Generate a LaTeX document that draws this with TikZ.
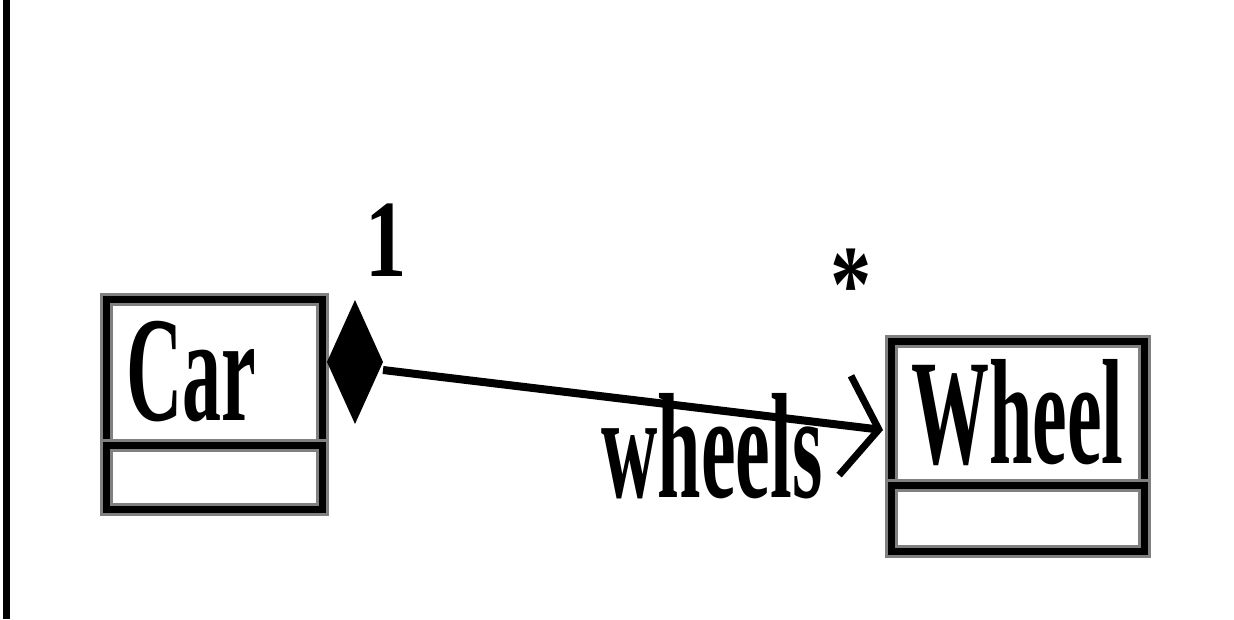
\documentclass[tikz,border=0pt]{standalone}
\usepackage{fontspec}
\setmainfont{Liberation Serif}
\usetikzlibrary{arrows.meta,positioning,shapes.geometric}

\newcommand{\squeeze}[2][0.52]{\scalebox{#1}[1]{#2}}

\begin{document}
\begin{tikzpicture}[x=1pt,y=-1pt,line width=7pt,
    >={Straight Barb[length=34pt,width=100pt,line width=7pt]}]
       \tikzstyle{umlbox}=[draw, rectangle, inner sep=0pt, outer sep=0pt,
         preaction={draw=black!50, line width=13pt}]
       \tikzstyle{classname}=[umlbox, font=\fontsize{150}{150}\selectfont\bfseries]
       \tikzstyle{role}=[font=\fontsize{150}{150}\selectfont\bfseries, anchor=base]
       \tikzstyle{mult}=[font=\fontsize{110}{110}\selectfont\bfseries, anchor=base]
       \tikzstyle{composite}=[diamond, fill=black, inner sep=0pt, outer sep=0pt,
         minimum width=56pt, minimum height=124pt]

       \useasboundingbox (0,0) rectangle (1234,619);
       \draw (6,0) -- (6,619);

       \node[classname, minimum width=216pt, minimum height=146pt] (car) at (214,372) {\squeeze{Car}\kern45pt};
       \node[umlbox, minimum width=216pt, minimum height=64pt, below=0pt of car] (car_attr) {};
       \node[composite, right=5pt of car.east, yshift=10pt] (dia) {};

       \node[classname, minimum width=253pt, minimum height=144pt] (wheel) at (1017.5,413) {\squeeze{Wheel}};
       \node[umlbox, minimum width=253pt, minimum height=66pt, below=0pt of wheel] (wheel_attr) {};

       \coordinate (assoc_start) at ([yshift=-8pt]dia.east);
       \coordinate (assoc_end) at ([xshift=-8pt,yshift=-17pt]wheel.west);

       \path[->, line width=8pt]
       (assoc_start) edge node[mult, pos=0, xshift=3pt, yshift=94pt] {\squeeze[0.75]{1}}
                          node[mult, pos=1, xshift=-32pt, yshift=109pt] {\squeeze[0.75]{*}}
                          node[role, pos=0.658, yshift=-88pt] {\squeeze{wheels}} (assoc_end);
     \end{tikzpicture}
\end{document}
